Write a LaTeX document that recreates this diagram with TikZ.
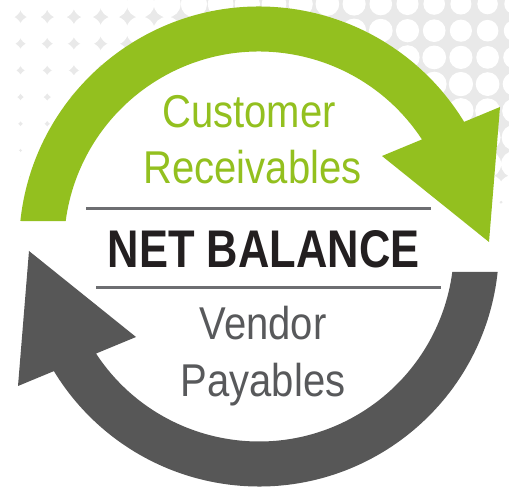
\documentclass[tikz,border=0pt]{standalone}
\usepackage{fontspec}
\setmainfont{Liberation Sans}
\newfontfamily\condfont[FakeStretch=0.87]{Liberation Sans}
\newfontfamily\headfont[FakeStretch=0.82]{Liberation Sans}
\definecolor{leaf}{HTML}{93C01F}
\definecolor{slate}{HTML}{575757}
\definecolor{inkdark}{HTML}{231F20}
\definecolor{rulegray}{HTML}{6D6E71}
\definecolor{patgray}{HTML}{E9E9E9}
\definecolor{vendorgray}{HTML}{58595B}
\newcommand\ringshape{(173.9:240) arc[start angle=173.9,end angle=31.28,radius=240] -- (241,139.5) -- (230,4.5) -- (123,90.5) -- (33.3:195) arc[start angle=33.3,end angle=172.49,radius=195] -- cycle}
\tikzset{
  greenlabel/.style={text=leaf,font=\condfont\fontsize{46}{46}\selectfont,anchor=base,inner sep=0pt},
  graylabel/.style={text=vendorgray,font=\condfont\fontsize{46}{46}\selectfont,anchor=base,inner sep=0pt},
  headlabel/.style={text=inkdark,font=\headfont\bfseries\fontsize{53}{53}\selectfont,anchor=base,inner sep=0pt},
  divider/.style={draw=rulegray,line width=2.6pt}
}
\begin{document}
\begin{tikzpicture}[x=1pt,y=1pt]
\useasboundingbox (0,0) rectangle (509,487);
% background halftone pattern
\fill[patgray] (0,227) rectangle (509,487);
\foreach \i in {-1,...,20}{
  \foreach \j in {-1,...,10}{
    \pgfmathsetmacro{\cx}{7+26.7*\i}
    \pgfmathsetmacro{\cy}{4+26.7*\j}
    \pgfmathsetmacro{\ty}{483-26.7*\j}
    \pgfmathsetmacro{\rr}{min(19.2,10+5*(509-\cx)/509+0.02*\cy+max(0,\cy-170)*0.12)}
    \fill[white] (\cx,\ty) circle[radius=\rr];
  }
}
\coordinate (C) at (259,240.5);
\fill[white] (C) circle[radius=240];
% arrows
\begin{scope}[shift={(C)}]
  \fill[leaf] \ringshape;
\end{scope}
\begin{scope}[shift={(C)},rotate=180]
  \fill[slate] \ringshape;
\end{scope}
% texts
\node[greenlabel] (cust) at (249,359.3) {Customer};
\node[greenlabel] (recv) at (252.5,303) {Receivables};
\node[headlabel] (net) at (263.7,219.7) {NET BALANCE};
\node[graylabel] (vend) at (263,147) {Vendor};
\node[graylabel] (pay) at (263,90.3) {Payables};
% divider lines
\coordinate (l1a) at (86,278.3);
\coordinate (l1b) at (431,278.3);
\coordinate (l2a) at (96,199.7);
\coordinate (l2b) at (441,199.7);
\draw[divider] (l1a) -- (l1b);
\draw[divider] (l2a) -- (l2b);
\end{tikzpicture}
\end{document}
